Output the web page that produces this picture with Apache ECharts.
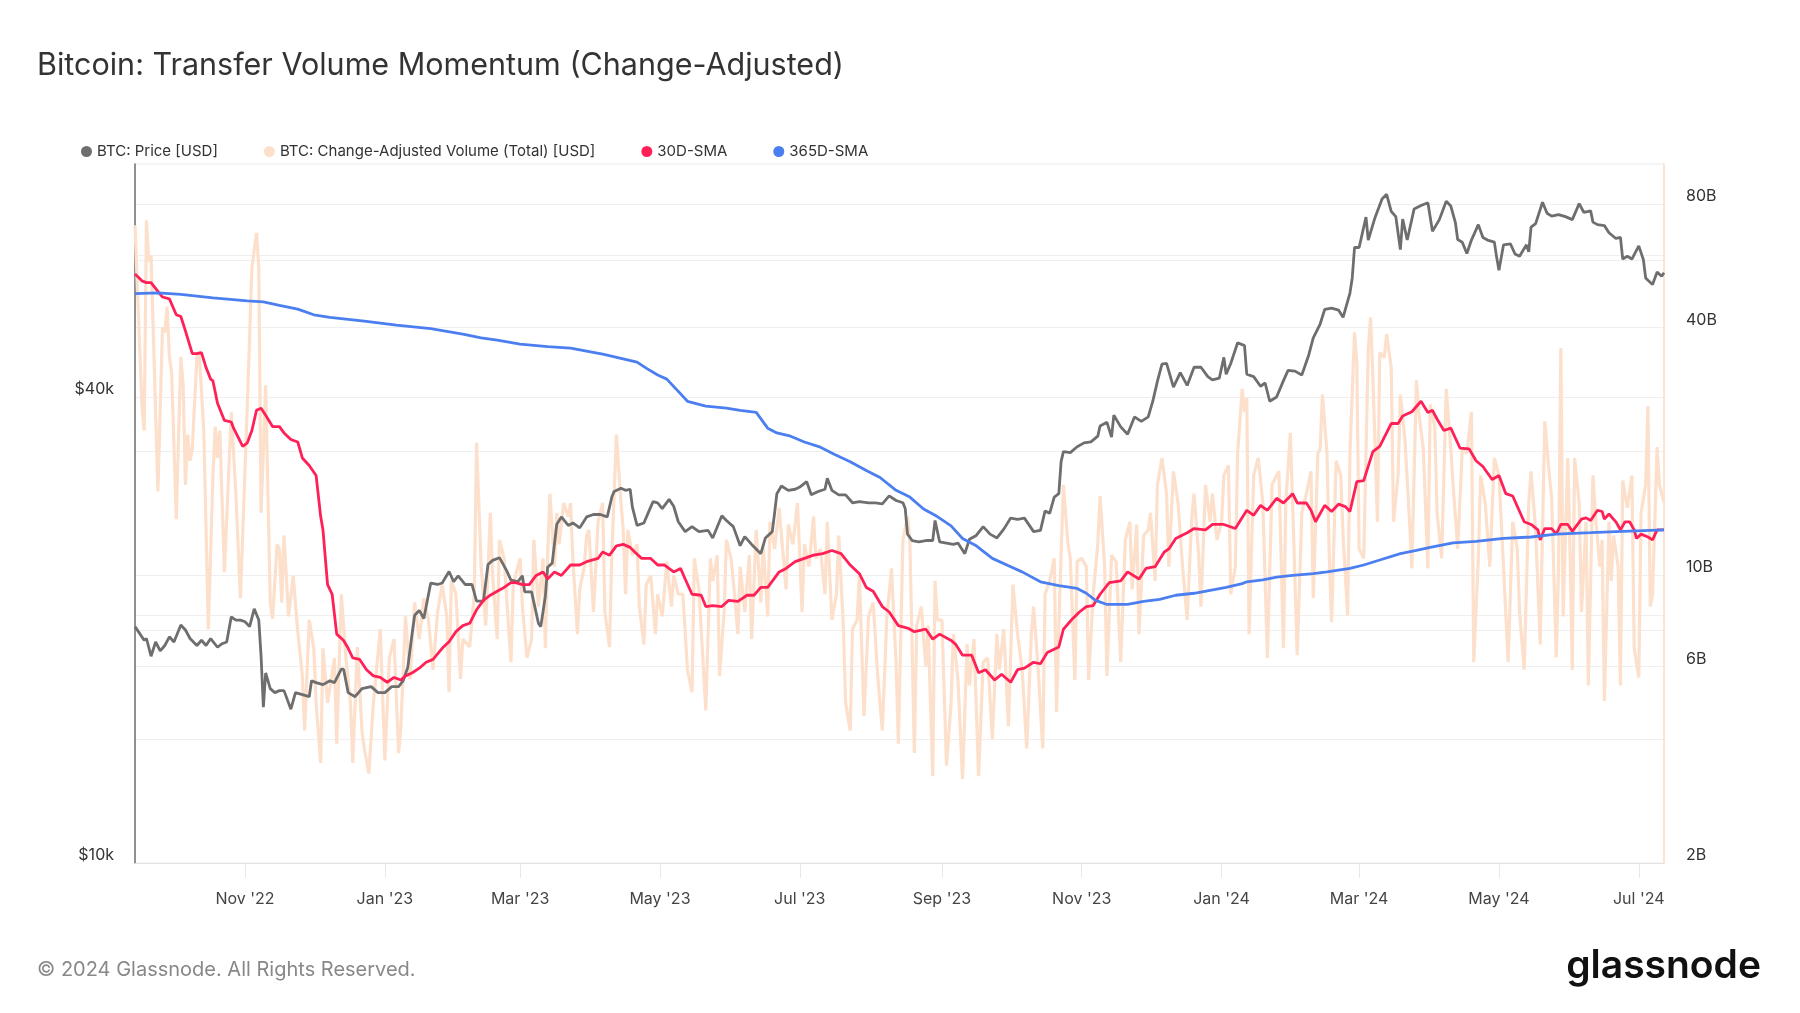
<!DOCTYPE html>
<html><head><meta charset="utf-8">
<script src="https://cdn.jsdelivr.net/npm/echarts@6/dist/echarts.min.js"></script>
<style>html,body{margin:0;padding:0;background:#fff}#c{width:1800px;height:1013px}</style>
</head><body><div id="c"></div>
<script>
// ---------- DATA ----------
const START_DATE = '2022-09-14';
const END_DATE = '2024-07-12';
const xTickDates = ['2022-11-01','2023-01-01','2023-03-01','2023-05-01','2023-07-01','2023-09-01','2023-11-01','2024-01-01','2024-03-01','2024-05-01','2024-07-01'];
const xTickLabels = ["Nov '22","Jan '23","Mar '23","May '23","Jul '23","Sep '23","Nov '23","Jan '24","Mar '24","May '24","Jul '24"];
const priceGridValues = [10, 20, 40, 60];       // $k
const priceLabelValues = [10, 40];              // $k
const volGridValues = [2, 4, 6, 8, 10, 20, 40, 60, 80];  // B
const volLabelValues = [2, 6, 10, 40, 80];      // B

// BTC price [USD, thousands]
const priceDates = ['2022-09-14','2022-09-16','2022-09-18','2022-09-19','2022-09-21','2022-09-23','2022-09-25','2022-09-27','2022-09-29','2022-10-01','2022-10-04','2022-10-06','2022-10-08','2022-10-11','2022-10-13','2022-10-15','2022-10-17','2022-10-20','2022-10-22','2022-10-24','2022-10-26','2022-10-28','2022-10-30','2022-11-01','2022-11-03','2022-11-05','2022-11-07','2022-11-08','2022-11-09','2022-11-10','2022-11-12','2022-11-14','2022-11-16','2022-11-18','2022-11-21','2022-11-23','2022-11-26','2022-11-29','2022-11-30','2022-12-02','2022-12-05','2022-12-08','2022-12-10','2022-12-13','2022-12-14','2022-12-16','2022-12-19','2022-12-22','2022-12-26','2022-12-29','2023-01-01','2023-01-04','2023-01-07','2023-01-09','2023-01-11','2023-01-13','2023-01-14','2023-01-16','2023-01-18','2023-01-21','2023-01-24','2023-01-26','2023-01-29','2023-01-31','2023-02-02','2023-02-05','2023-02-08','2023-02-10','2023-02-13','2023-02-15','2023-02-17','2023-02-20','2023-02-23','2023-02-25','2023-02-28','2023-03-02','2023-03-03','2023-03-06','2023-03-09','2023-03-10','2023-03-12','2023-03-13','2023-03-15','2023-03-17','2023-03-19','2023-03-22','2023-03-24','2023-03-27','2023-03-30','2023-04-02','2023-04-05','2023-04-08','2023-04-10','2023-04-11','2023-04-14','2023-04-16','2023-04-18','2023-04-19','2023-04-21','2023-04-24','2023-04-26','2023-04-28','2023-04-30','2023-05-02','2023-05-05','2023-05-07','2023-05-09','2023-05-12','2023-05-15','2023-05-18','2023-05-22','2023-05-24','2023-05-28','2023-05-30','2023-06-02','2023-06-05','2023-06-07','2023-06-10','2023-06-14','2023-06-16','2023-06-19','2023-06-20','2023-06-21','2023-06-23','2023-06-26','2023-06-29','2023-07-01','2023-07-04','2023-07-06','2023-07-09','2023-07-12','2023-07-13','2023-07-15','2023-07-18','2023-07-21','2023-07-24','2023-07-27','2023-07-31','2023-08-03','2023-08-06','2023-08-09','2023-08-12','2023-08-15','2023-08-16','2023-08-17','2023-08-19','2023-08-22','2023-08-25','2023-08-28','2023-08-29','2023-08-31','2023-09-03','2023-09-06','2023-09-08','2023-09-11','2023-09-13','2023-09-16','2023-09-19','2023-09-22','2023-09-25','2023-09-28','2023-10-01','2023-10-04','2023-10-07','2023-10-11','2023-10-14','2023-10-16','2023-10-18','2023-10-20','2023-10-22','2023-10-23','2023-10-24','2023-10-27','2023-10-30','2023-11-02','2023-11-05','2023-11-08','2023-11-09','2023-11-12','2023-11-14','2023-11-15','2023-11-18','2023-11-21','2023-11-24','2023-11-27','2023-11-30','2023-12-02','2023-12-04','2023-12-06','2023-12-08','2023-12-11','2023-12-14','2023-12-17','2023-12-20','2023-12-23','2023-12-26','2023-12-28','2023-12-31','2024-01-02','2024-01-03','2024-01-05','2024-01-08','2024-01-11','2024-01-12','2024-01-15','2024-01-18','2024-01-20','2024-01-22','2024-01-25','2024-01-28','2024-01-30','2024-02-02','2024-02-05','2024-02-08','2024-02-10','2024-02-13','2024-02-15','2024-02-18','2024-02-21','2024-02-23','2024-02-26','2024-02-27','2024-02-28','2024-03-01','2024-03-04','2024-03-05','2024-03-07','2024-03-08','2024-03-11','2024-03-13','2024-03-15','2024-03-17','2024-03-19','2024-03-20','2024-03-22','2024-03-25','2024-03-28','2024-03-31','2024-04-02','2024-04-05','2024-04-08','2024-04-10','2024-04-12','2024-04-13','2024-04-15','2024-04-17','2024-04-19','2024-04-22','2024-04-24','2024-04-26','2024-04-29','2024-04-30','2024-05-01','2024-05-03','2024-05-06','2024-05-08','2024-05-10','2024-05-13','2024-05-14','2024-05-15','2024-05-17','2024-05-20','2024-05-22','2024-05-24','2024-05-27','2024-05-30','2024-06-02','2024-06-05','2024-06-07','2024-06-10','2024-06-11','2024-06-13','2024-06-16','2024-06-18','2024-06-21','2024-06-23','2024-06-24','2024-06-26','2024-06-28','2024-07-01','2024-07-03','2024-07-04','2024-07-05','2024-07-07','2024-07-09','2024-07-11','2024-07-12'];
const priceK = [20.2,19.8,19.4,19.5,18.5,19.3,18.8,19.1,19.6,19.3,20.3,20.0,19.5,19.1,19.4,19.1,19.5,19.0,19.2,19.3,20.8,20.6,20.6,20.5,20.2,21.3,20.6,18.5,15.9,17.6,16.8,16.6,16.7,16.7,15.8,16.6,16.5,16.4,17.2,17.1,17.0,17.2,17.1,17.8,17.8,16.6,16.4,16.8,16.9,16.6,16.6,16.9,16.9,17.2,17.9,19.9,20.9,21.2,20.7,23.0,22.9,23.0,23.8,23.1,23.5,22.9,22.9,21.8,21.8,24.3,24.6,24.8,23.9,23.2,23.1,23.5,22.4,22.4,20.4,20.2,22.1,24.1,24.4,27.4,28.0,27.3,27.5,27.1,28.0,28.2,28.2,28.0,29.7,30.2,30.5,30.3,30.4,28.8,27.3,27.5,28.4,29.3,29.2,28.7,29.5,28.9,27.6,26.8,27.2,26.8,26.9,26.3,28.1,27.7,27.2,25.7,26.4,25.8,25.1,26.3,26.8,28.3,30.0,30.7,30.3,30.4,30.6,31.1,29.9,30.2,30.4,31.4,30.3,29.9,29.9,29.2,29.3,29.2,29.2,29.1,29.8,29.4,29.2,28.7,26.6,26.1,26.0,26.1,26.1,27.7,26.0,25.9,25.8,25.9,25.1,26.2,26.5,27.2,26.6,26.3,27.0,27.9,27.8,27.9,26.8,26.9,28.5,28.3,29.7,30.0,33.0,34.0,33.9,34.5,34.9,35.0,35.6,36.7,37.1,35.5,37.9,36.6,35.8,37.7,37.2,37.7,39.5,41.9,44.1,44.2,41.2,43.0,41.4,43.7,43.7,42.5,42.1,42.3,45.0,42.8,44.2,47.0,46.6,42.8,42.5,41.3,41.7,39.5,40.0,42.0,43.3,43.2,42.7,45.3,47.7,49.7,51.9,52.1,51.8,50.7,54.5,57.0,62.4,62.4,68.3,63.8,66.8,68.3,72.1,73.1,69.5,68.4,62.0,67.9,63.8,70.0,70.7,71.3,65.5,67.8,71.6,70.6,67.2,63.9,63.4,61.3,63.8,66.8,64.3,63.8,63.4,60.6,58.3,62.9,63.1,61.2,60.8,62.9,61.6,66.3,67.0,71.4,69.1,68.5,68.8,68.4,67.8,71.1,69.3,69.6,67.3,66.8,66.6,65.2,64.1,64.3,60.3,60.8,60.3,62.7,60.2,57.0,56.6,55.9,58.0,57.3,57.9];

// Change-adjusted transfer volume [USD billions], days since START_DATE
const volDay = [0,3,4,5,6,7,10,12,13,14,15,16,18,20,21,22,23,24,25,27,28,30,32,34,35,36,37,39,42,44,46,49,51,53,54,55,57,59,60,62,63,64,65,67,69,71,73,74,76,78,79,81,82,84,87,88,90,92,94,95,97,99,100,102,104,107,109,111,113,115,116,118,120,122,124,126,128,130,132,134,136,137,138,140,142,143,146,148,149,151,153,155,156,158,159,161,164,165,167,168,169,171,173,174,176,178,179,180,181,183,184,185,187,189,190,191,193,194,196,197,198,200,202,204,205,207,208,210,212,213,214,215,217,219,220,222,223,225,227,228,230,232,234,235,237,239,241,243,244,246,249,251,252,254,255,257,258,260,261,263,264,266,268,269,271,273,274,276,277,279,281,284,285,287,289,291,292,294,296,297,299,301,302,304,306,307,309,310,312,313,315,316,318,320,322,324,326,328,330,332,333,335,337,338,340,341,343,345,346,348,349,350,352,354,356,357,359,361,363,364,366,368,370,372,374,376,377,379,381,383,385,387,389,391,392,394,396,397,399,401,402,403,405,407,408,410,411,413,415,416,418,420,421,423,424,426,428,430,432,434,435,437,438,440,442,443,445,446,448,450,451,453,455,457,459,461,462,464,465,467,469,470,472,474,475,477,478,480,481,483,484,485,486,488,490,492,494,496,498,499,501,502,504,505,507,509,511,513,514,516,517,518,520,521,522,524,526,527,529,530,532,533,534,536,538,539,540,542,543,545,546,548,549,551,552,554,556,557,559,560,562,564,565,567,568,570,572,574,575,577,579,581,583,584,586,587,589,591,593,595,597,599,601,603,604,606,608,609,611,613,614,615,617,618,620,621,622,623,625,626,627,628,630,631,633,634,636,637,639,640,641,643,644,645,647,648,649,651,653,654,656,657,659,660,661,662,664,665,666,667];
const volB = [71,26,22.5,73,58,60,16,40,39,45,34,31,13.7,34,29,16.6,22,19,20.3,34,35,22.5,7.4,17.5,23,19.3,22.5,10.2,24.9,15.8,8.8,26,56,68,56,14.2,29,8.6,7.85,11.9,11.6,8.6,12.5,7.95,10,7.3,5.7,4.2,7.8,6.65,4.9,3.5,6.65,4.9,6.3,3.9,9,6.3,4.9,3.5,6.7,4.2,3.8,3.3,4.9,7.4,3.55,6.3,7,3.7,4.3,7.95,5.6,8.6,7,8.8,7.8,5.9,8.15,9.5,7.95,5.2,9.7,9,5.6,7,6.7,9,21,10.5,7.55,14.2,10,7,12.2,11,6.15,9.5,10.5,11,8.4,6.3,7,12.2,8.4,11,6.65,11.2,15.8,10.5,14.2,11.9,15,13.9,15,11,7.2,9.25,10.5,12.5,12.9,8.15,13.5,15,8.15,6.7,11.2,22,15,12.9,9,12.9,11.2,11.9,8.4,6.8,9.5,10,7.2,9,7.95,10.8,8.4,10,9,9,5.9,5.2,11,9.25,4.7,11,9.7,11.2,5.7,8.15,12.2,11,9.7,7.2,10.5,8.15,11.2,7,12.9,8.6,11.9,7.95,13.5,11.6,14.6,9.25,13.3,11.9,15,8.15,11.9,10.5,13.9,11,11.6,9,13.5,7.8,9,12.5,7.55,4.9,4.2,7.4,7.8,10,4.55,7.95,8.6,5.7,4.2,7.95,10.4,6.15,3.9,12.2,13.9,12.2,3.7,7.55,8.4,6,7.55,3.25,9.7,7.8,7.8,3.45,4.9,7.2,5.57,3.2,6.8,5.4,7,3.25,6.15,6.3,4,7.2,5.9,7.4,4.3,9.5,7.2,5.9,3.8,7.2,8.4,5.9,3.8,9,9.7,11,4.65,7.55,16.6,11.9,11,5.57,10.8,11,10.5,5.57,9,11.9,15.6,10.5,5.7,11.2,10.8,6.15,12.2,13.5,9.25,13.3,7.2,12.5,12.9,14.2,9.7,16.6,19.3,15.8,10.5,17.9,15,10.5,7.8,13.9,15.8,11.2,8.4,16.6,13.5,15.8,12.2,13.5,17.5,18.5,9,10.5,19.8,28.4,25,27,7.2,17.5,19.3,15,6.3,16.6,17.5,17.9,6.65,15,22.2,15,6.4,14.2,15.8,17.9,8.8,19.8,20.3,27.5,19.8,11,7.7,19,17.5,12.5,8,19.8,39,32.9,11.6,11,35.5,42.4,30.5,13.5,34.8,33.9,38.6,32,13.5,17.5,27.5,21.4,13.5,10.4,29.8,25,20.3,10.4,26,23,14.2,11,28.4,20.3,16.6,11.6,20.3,19.8,25,6.15,11,17.5,15,10.5,19.3,17.5,10.5,6.15,13.5,11.6,8.15,5.9,15,17.9,12.9,6.8,12.9,23.7,17.5,15.4,6.32,10.5,35.7,7.95,19.3,11.6,5.9,19.3,15,8.15,13.5,5.4,17.5,14.2,10.5,12.2,4.95,13.5,9.7,12.5,10.5,5.4,17,14.6,17.5,6.65,5.65,14.2,16.6,25.8,8.4,9,20.5,16.6,15.8,15];

// 30-day SMA [USD billions]
const sma30Day = [0,3,5,7,10,12,15,18,20,22,25,27,29,31,33,34,36,39,42,43,47,49,51,53,55,57,60,63,65,68,71,73,76,79,81,82,84,86,88,91,93,95,98,101,104,107,110,113,116,118,121,124,127,130,134,137,140,143,146,149,152,155,158,161,164,166,169,172,175,178,180,183,186,190,194,197,202,204,207,210,213,216,218,221,225,228,231,235,238,240,243,247,249,252,256,259,263,267,270,273,276,281,284,288,292,296,300,304,308,312,316,319,322,326,329,333,337,340,345,348,351,356,358,361,365,368,371,375,378,382,385,388,392,395,398,403,405,409,412,415,418,421,425,430,433,438,441,445,449,451,454,459,462,467,470,475,480,485,488,491,494,498,501,505,507,511,513,515,519,522,525,528,530,533,536,540,543,548,551,553,557,561,564,566,568,571,574,578,582,585,588,592,595,598,601,606,609,612,613,615,618,620,622,625,627,631,633,635,638,640,641,643,646,648,650,652,654,655,657,660,662,664,667];
const sma30B = [54,52,51.5,51.5,49,47.5,47,43,42.6,39.3,34.6,34.6,34.8,32,30,29.7,26.2,23.8,23.6,22.8,20.6,21,22.5,25.2,25.5,24.5,23,23,22.2,21.4,21.1,19.3,18.5,17.5,13.9,12.9,9.5,9,7.2,6.95,6.65,6.3,6.25,5.9,5.7,5.65,5.5,5.65,5.57,5.7,5.8,5.95,6.15,6.25,6.65,6.9,7.3,7.55,7.65,8.25,8.7,8.95,9.15,9.35,9.6,9.6,9.5,9.5,10,10.2,9.8,10.2,10,10.6,10.6,10.8,11,11.4,11.2,11.8,11.9,11.7,11.4,11,11,10.6,10.6,10.2,10.4,9.8,9,8.95,8.4,8.45,8.4,8.7,8.65,8.95,8.95,9.35,9.35,10.2,10.4,10.8,11,11.2,11.3,11.5,11.3,10.6,10.1,9.35,9.15,8.4,8.15,7.55,7.45,7.3,7.4,7,7.2,6.95,6.8,6.4,6.4,5.8,5.9,5.57,5.75,5.5,5.9,5.95,6.15,6.1,6.5,6.7,7.4,7.85,8.15,8.4,8.45,9,9.6,9.7,10.2,9.8,10.4,10.5,11.4,11.6,12.3,12.7,13,12.9,13.3,13.3,13,14.4,14,14.8,14.4,15.4,15,15.8,15,15,14.4,13.5,14.8,14.3,14.9,14.7,14.3,16.9,17,20,20.6,23.4,23.4,24.4,25,26.5,24.9,25.2,24,22.5,22.8,20.4,20.3,19,18.4,17.1,17.5,15.8,15.6,13.5,13.3,12.9,12.2,13,13,12.6,13.3,13.3,12.8,13.7,13.8,13.6,14.4,14.3,13.7,14.1,13.5,12.9,13.5,13.5,12.9,12.3,12.6,12.4,12.2,12.9,12.9];

// 365-day SMA [USD billions]
const sma365Day = [0,10,20,34,49,56,63,71,78,85,100,114,129,143,151,158,168,180,190,204,212,219,223,228,232,236,241,249,258,264,271,276,280,286,292,299,305,312,319,325,332,338,344,350,356,361,367,374,382,387,395,403,411,415,419,424,433,440,447,454,462,469,476,483,485,492,498,505,514,520,530,536,543,552,559,565,575,585,597,609,620,635,649,667];
const sma365B = [48.4,48.6,48.2,47.3,46.5,46.2,45.3,44.4,43,42.4,41.5,40.6,39.8,38.6,37.8,37.3,36.5,36,35.7,34.5,33.7,33,31.9,30.7,30,28.4,26.5,25.8,25.5,25.2,24.9,22.8,22.2,21.8,21.1,20.5,19.7,18.9,18,17.3,16.1,15.5,14.5,13.9,13.2,12.3,11.8,11,10.5,10.2,9.65,9.45,9.3,9.05,8.7,8.5,8.5,8.65,8.75,8.95,9.05,9.2,9.35,9.55,9.65,9.75,9.9,10,10.1,10.2,10.4,10.6,10.9,11.3,11.5,11.7,12,12.1,12.3,12.4,12.6,12.7,12.8,12.9];

// ---------- CHART ----------
const DAY = 86400000;
const t0 = Date.parse(START_DATE + 'T00:00:00Z');
const t1 = Date.parse(END_DATE + 'T00:00:00Z');
const ts = d => Date.parse(d + 'T00:00:00Z');
const xTickTs = xTickDates.map(ts);
const byDay = (days, vals) => days.map((d, i) => [t0 + d * DAY, vals[i]]);

const FONT = 'Inter, "Noto Sans", sans-serif';
const C_PRICE = '#6e6e6e', C_VOL = '#fde0cb', C_30 = '#ff2058', C_365 = '#4b7ff0';

const chart = echarts.init(document.getElementById('c'), null, {renderer: 'canvas'});
chart.setOption({
  animation: false,
  backgroundColor: '#ffffff',
  textStyle: {fontFamily: FONT},
  title: [
    {text: 'Bitcoin: Transfer Volume Momentum (Change-Adjusted)', left: 32, top: 45,
     textStyle: {fontFamily: FONT, fontSize: 30.5, fontWeight: 400, color: '#333333'}},
    {text: '© 2024 Glassnode. All Rights Reserved.', left: 32, top: 955,
     textStyle: {fontFamily: FONT, fontSize: 20, fontWeight: 400, color: '#888888'}},
    {text: 'glassnode', right: 34, top: 942,
     textStyle: {fontFamily: FONT, fontSize: 39, fontWeight: 600, color: '#111111'}}
  ],
  legend: {
    left: 76, top: 139, icon: 'circle', itemWidth: 11, itemHeight: 11, itemGap: 46,
    textStyle: {fontFamily: FONT, fontSize: 15, color: '#333333'},
    data: ['BTC: Price [USD]', 'BTC: Change-Adjusted Volume (Total) [USD]', '30D-SMA', '365D-SMA']
  },
  grid: {left: 135, right: 136, top: 164, bottom: 150, show: true, borderColor: '#ebebeb', borderWidth: 1, containLabel: false},
  xAxis: {
    type: 'value', min: t0, max: t1,
    axisLine: {show: true, lineStyle: {color: '#e3e3e3', width: 1}},
    axisTick: {show: true, length: 15, lineStyle: {color: '#e8e8e8'}, customValues: xTickTs},
    axisLabel: {customValues: xTickTs, margin: 28, fontSize: 16, color: '#444444', fontFamily: FONT,
      formatter: v => { const i = xTickTs.indexOf(v); return i >= 0 ? xTickLabels[i] : ''; }},
    splitLine: {show: false}
  },
  yAxis: [
    {type: 'log', logBase: 2, min: 10, max: 80, position: 'left',
     axisLine: {show: true, lineStyle: {color: '#6e6e6e', width: 1.5}},
     axisTick: {show: false, customValues: priceGridValues},
     axisLabel: {customValues: priceLabelValues, margin: 21, fontSize: 16, color: '#333333', fontFamily: FONT,
       verticalAlign: 'bottom', formatter: v => '$' + Math.round(v) + 'k'},
     splitLine: {show: true, lineStyle: {color: '#efefef', width: 1}}},
    {type: 'log', logBase: 2, min: 2, max: 100, position: 'right',
     axisLine: {show: true, lineStyle: {color: '#fde0cb', width: 1.5}},
     axisTick: {show: false, customValues: volGridValues},
     axisLabel: {customValues: volLabelValues, margin: 22, fontSize: 16, color: '#333333', fontFamily: FONT,
       verticalAlign: 'bottom', formatter: v => Math.round(v) + 'B'},
     splitLine: {show: true, lineStyle: {color: '#efefef', width: 1}}}
  ],
  series: [
    {name: 'BTC: Change-Adjusted Volume (Total) [USD]', type: 'line', yAxisIndex: 1, symbol: 'none', z: 1,
     itemStyle: {color: C_VOL}, lineStyle: {color: C_VOL, width: 3.2}, data: byDay(volDay, volB)},
    {name: 'BTC: Price [USD]', type: 'line', yAxisIndex: 0, symbol: 'none', z: 2,
     itemStyle: {color: C_PRICE}, lineStyle: {color: C_PRICE, width: 2.8},
     data: priceDates.map((d, i) => [ts(d), priceK[i]])},
    {name: '30D-SMA', type: 'line', yAxisIndex: 1, symbol: 'none', z: 3,
     itemStyle: {color: C_30}, lineStyle: {color: C_30, width: 2.8}, data: byDay(sma30Day, sma30B)},
    {name: '365D-SMA', type: 'line', yAxisIndex: 1, symbol: 'none', z: 4,
     itemStyle: {color: C_365}, lineStyle: {color: C_365, width: 2.8}, data: byDay(sma365Day, sma365B)}
  ]
});
</script></body></html>
